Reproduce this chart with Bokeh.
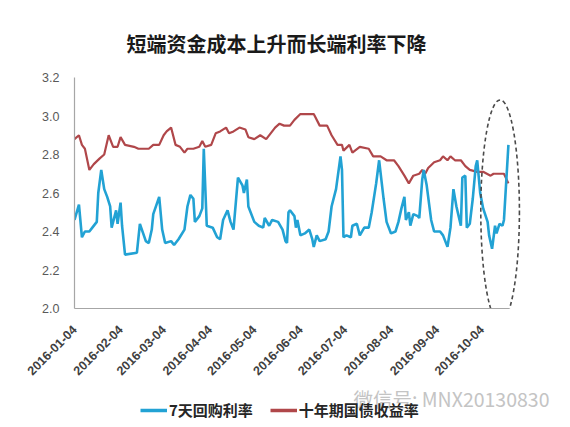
from math import pi
import pandas as pd
from bokeh.plotting import figure
from bokeh.layouts import column
from bokeh.models import (ColumnDataSource, FixedTicker, DatetimeTickFormatter,
                          PrintfTickFormatter, Legend, LegendItem, Range1d, Label)
from bokeh.embed import file_html
from bokeh.resources import INLINE

TITLE = "短端资金成本上升而长端利率下降"
SERIES_NAMES = ["7天回购利率", "十年期国债收益率"]
WATERMARK = "微信号: MNX20130830"

repo_dates = [
    "2016-01-04", "2016-01-07", "2016-01-09", "2016-01-11", "2016-01-14", "2016-01-16",
    "2016-01-19", "2016-01-20", "2016-01-22", "2016-01-24", "2016-01-26", "2016-01-28",
    "2016-01-29", "2016-02-01", "2016-02-02", "2016-02-04", "2016-02-05", "2016-02-07",
    "2016-02-15", "2016-02-17", "2016-02-21", "2016-02-23", "2016-02-25", "2016-02-26",
    "2016-03-01", "2016-03-03", "2016-03-05", "2016-03-09", "2016-03-11", "2016-03-14",
    "2016-03-18", "2016-03-20", "2016-03-22", "2016-03-24", "2016-03-25", "2016-03-28",
    "2016-03-30", "2016-03-31", "2016-04-02", "2016-04-06", "2016-04-09", "2016-04-11",
    "2016-04-13", "2016-04-16", "2016-04-18", "2016-04-20", "2016-04-23", "2016-04-26",
    "2016-04-27", "2016-04-29", "2016-04-30", "2016-05-04", "2016-05-07", "2016-05-10",
    "2016-05-11", "2016-05-14", "2016-05-16", "2016-05-20", "2016-05-23", "2016-05-25",
    "2016-05-26", "2016-05-27", "2016-05-28", "2016-05-31", "2016-06-01", "2016-06-02",
    "2016-06-04", "2016-06-07", "2016-06-10", "2016-06-12", "2016-06-13", "2016-06-15",
    "2016-06-17", "2016-06-21", "2016-06-23", "2016-06-25", "2016-06-28", "2016-07-01",
    "2016-07-02", "2016-07-03", "2016-07-05", "2016-07-08", "2016-07-09", "2016-07-12",
    "2016-07-14", "2016-07-17", "2016-07-20", "2016-07-22", "2016-07-25", "2016-07-27",
    "2016-07-30", "2016-08-01", "2016-08-04", "2016-08-07", "2016-08-09", "2016-08-11",
    "2016-08-13", "2016-08-14", "2016-08-16", "2016-08-17", "2016-08-19", "2016-08-22",
    "2016-08-23", "2016-08-25", "2016-08-26", "2016-08-28", "2016-08-31", "2016-09-02",
    "2016-09-06", "2016-09-08", "2016-09-11", "2016-09-13", "2016-09-15", "2016-09-17",
    "2016-09-20", "2016-09-21", "2016-09-23", "2016-09-24", "2016-09-26", "2016-09-28",
    "2016-09-30", "2016-10-01", "2016-10-03", "2016-10-05", "2016-10-08", "2016-10-09",
    "2016-10-11", "2016-10-13", "2016-10-14", "2016-10-16", "2016-10-18", "2016-10-19",
    "2016-10-21", "2016-10-22",
]
repo_rates = [
    2.46, 2.54, 2.37, 2.40, 2.40, 2.42,
    2.45, 2.60, 2.72, 2.62, 2.58, 2.53,
    2.42, 2.51, 2.44, 2.55, 2.43, 2.28,
    2.29, 2.44, 2.35, 2.34, 2.41, 2.49,
    2.58, 2.41, 2.34, 2.35, 2.33, 2.36,
    2.41, 2.53, 2.59, 2.57, 2.45, 2.48,
    2.52, 2.83, 2.43, 2.42, 2.37, 2.36,
    2.46, 2.51, 2.45, 2.41, 2.68, 2.64,
    2.60, 2.67, 2.53, 2.45, 2.43, 2.42,
    2.47, 2.43, 2.46, 2.45, 2.41, 2.35,
    2.34, 2.50, 2.51, 2.48, 2.42, 2.46,
    2.38, 2.39, 2.41, 2.36, 2.32, 2.38,
    2.35, 2.36, 2.40, 2.53, 2.62, 2.79,
    2.72, 2.37, 2.38, 2.37, 2.43, 2.44,
    2.38, 2.42, 2.42, 2.50, 2.65, 2.77,
    2.57, 2.45, 2.39, 2.40, 2.45, 2.52,
    2.58, 2.46, 2.50, 2.43, 2.49, 2.48,
    2.47, 2.67, 2.72, 2.64, 2.46, 2.40,
    2.40, 2.38, 2.32, 2.42, 2.62, 2.53,
    2.43, 2.68, 2.69, 2.42, 2.44, 2.57,
    2.74, 2.77, 2.60, 2.52, 2.45, 2.38,
    2.31, 2.43, 2.39, 2.44, 2.43, 2.46,
    2.72, 2.85,
]

bond_dates = [
    "2016-01-04", "2016-01-07", "2016-01-09", "2016-01-11", "2016-01-14", "2016-01-17",
    "2016-01-21", "2016-01-24", "2016-01-27", "2016-01-30", "2016-02-02", "2016-02-04",
    "2016-02-07", "2016-02-13", "2016-02-16", "2016-02-20", "2016-02-23", "2016-02-26",
    "2016-03-01", "2016-03-04", "2016-03-06", "2016-03-09", "2016-03-12", "2016-03-15",
    "2016-03-18", "2016-03-20", "2016-03-24", "2016-03-28", "2016-03-30", "2016-04-01",
    "2016-04-05", "2016-04-08", "2016-04-11", "2016-04-15", "2016-04-17", "2016-04-20",
    "2016-04-24", "2016-04-28", "2016-04-30", "2016-05-04", "2016-05-08", "2016-05-12",
    "2016-05-15", "2016-05-18", "2016-05-21", "2016-05-24", "2016-05-28", "2016-05-31",
    "2016-06-04", "2016-06-13", "2016-06-17", "2016-06-22", "2016-06-25", "2016-06-29",
    "2016-07-02", "2016-07-03", "2016-07-07", "2016-07-09", "2016-07-14", "2016-07-20",
    "2016-07-23", "2016-07-28", "2016-08-01", "2016-08-06", "2016-08-09", "2016-08-13",
    "2016-08-16", "2016-08-19", "2016-08-23", "2016-08-25", "2016-08-27", "2016-08-29",
    "2016-09-02", "2016-09-06", "2016-09-08", "2016-09-11", "2016-09-13", "2016-09-16",
    "2016-09-20", "2016-09-23", "2016-09-26", "2016-10-01", "2016-10-05", "2016-10-10",
    "2016-10-12", "2016-10-16", "2016-10-19", "2016-10-22",
]
bond_yields = [
    2.88, 2.90, 2.85, 2.83, 2.72, 2.75,
    2.78, 2.80, 2.90, 2.84, 2.84, 2.89,
    2.85, 2.84, 2.83, 2.83, 2.83, 2.85,
    2.85, 2.90, 2.92, 2.94, 2.85, 2.84,
    2.81, 2.83, 2.83, 2.84, 2.87, 2.84,
    2.85, 2.91, 2.92, 2.94, 2.91, 2.92,
    2.94, 2.93, 2.89, 2.88, 2.90, 2.88,
    2.91, 2.94, 2.96, 2.95, 2.95, 2.98,
    3.01, 3.01, 2.95, 2.95, 2.90, 2.85,
    2.85, 2.82, 2.85, 2.81, 2.84, 2.83,
    2.79, 2.79, 2.77, 2.77, 2.74, 2.69,
    2.65, 2.69, 2.70, 2.72, 2.70, 2.73,
    2.76, 2.77, 2.79, 2.77, 2.79, 2.77,
    2.77, 2.74, 2.72, 2.71, 2.71, 2.69,
    2.70, 2.70, 2.70, 2.65,
]

x_tick_labels = ["2016-01-04", "2016-02-04", "2016-03-04", "2016-04-04", "2016-05-04",
                 "2016-06-04", "2016-07-04", "2016-08-04", "2016-09-04", "2016-10-04"]
y_ticks = [2.0, 2.2, 2.4, 2.6, 2.8, 3.0, 3.2]

# highlighted region (dashed ellipse around the last weeks)
HIGHLIGHT_CENTER = ("2016-10-16", 2.505)
HIGHLIGHT_DAYS = 26.0
HIGHLIGHT_HEIGHT = 1.157

DAY_MS = 86400000.0
REPO_COLOR = "#22a2d4"
BOND_COLOR = "#b0474a"


def ms(d):
    return (pd.Timestamp(d) - pd.Timestamp("1970-01-01")).total_seconds() * 1000.0


x_start = ms(repo_dates[0])
x_end = x_start + 325.7 * DAY_MS

src_repo = ColumnDataSource(dict(x=pd.to_datetime(repo_dates), y=repo_rates))
src_bond = ColumnDataSource(dict(x=pd.to_datetime(bond_dates), y=bond_yields))

# ---------------- main chart ----------------
p = figure(width=562, height=382, x_axis_type="datetime",
           x_range=Range1d(x_start, x_end), y_range=Range1d(y_ticks[0], y_ticks[-1]),
           output_backend="svg", toolbar_location=None,
           min_border_left=74, min_border_right=4, min_border_top=77, min_border_bottom=72,
           background_fill_color="white", border_fill_color="white")
p.outline_line_color = None
p.xgrid.visible = False
p.ygrid.visible = False

p.title.text = TITLE
p.title.text_font = "Noto Sans CJK SC"
p.title.text_font_size = "20px"
p.title.text_font_style = "bold"
p.title.text_color = "#1a1a1a"
p.title.align = "left"
p.title.offset = 52
p.title.standoff = 40

p.line("x", "y", source=src_bond, line_color=BOND_COLOR, line_width=2.2)
p.line("x", "y", source=src_repo, line_color=REPO_COLOR, line_width=2.6)

p.ellipse(x=[ms(HIGHLIGHT_CENTER[0]) + 0.4 * DAY_MS], y=[HIGHLIGHT_CENTER[1]],
          width=HIGHLIGHT_DAYS * DAY_MS, height=HIGHLIGHT_HEIGHT,
          fill_color=None, line_color="#4a4a4a", line_width=1.6, line_dash="4 3")

xa = p.xaxis[0]
xa.ticker = FixedTicker(ticks=[ms(d) for d in x_tick_labels])
xa.formatter = DatetimeTickFormatter(days="%Y-%m-%d", months="%Y-%m-%d", years="%Y-%m-%d")
xa.major_label_orientation = pi / 4
xa.major_tick_line_color = None
xa.minor_tick_line_color = None
xa.axis_line_color = "#a6a6a6"
xa.axis_line_width = 1.2
xa.major_label_text_font = "Liberation Sans"
xa.major_label_text_font_style = "bold"
xa.major_label_text_font_size = "12.5px"
xa.major_label_text_color = "#404040"
xa.major_label_standoff = 13
xa.bounds = (ms(repo_dates[0]), ms(repo_dates[-1]) + DAY_MS)

ya = p.yaxis[0]
ya.ticker = FixedTicker(ticks=y_ticks)
ya.formatter = PrintfTickFormatter(format="%.1f")
ya.major_tick_line_color = None
ya.minor_tick_line_color = None
ya.axis_line_color = "#a6a6a6"
ya.axis_line_width = 1.2
ya.major_label_text_font = "Liberation Sans"
ya.major_label_text_font_size = "12.5px"
ya.major_label_text_color = "#595959"
ya.major_label_standoff = 9
ya.bounds = (y_ticks[0], y_ticks[-1])

# ---------------- legend strip ----------------
p2 = figure(width=562, height=45, x_range=Range1d(x_start, x_end), y_range=Range1d(0, 1),
            output_backend="svg", toolbar_location=None,
            x_axis_location=None, y_axis_location=None,
            min_border_left=74, min_border_right=4, min_border_top=0, min_border_bottom=0,
            background_fill_color="white", border_fill_color="white")
p2.outline_line_color = None
p2.xgrid.visible = False
p2.ygrid.visible = False

k_repo = p2.line("x", "y", source=src_repo, line_color=REPO_COLOR, line_width=3.5, visible=False)
k_bond = p2.line("x", "y", source=src_bond, line_color=BOND_COLOR, line_width=3.5, visible=False)

wm = Label(x=279, y=29, x_units="screen", y_units="screen", text=WATERMARK,
           text_baseline="middle", text_font="Noto Sans CJK SC", text_font_size="19.5px",
           text_color="#c4c4c4")
p2.add_layout(wm)

legend = Legend(items=[LegendItem(label=SERIES_NAMES[0], renderers=[k_repo]),
                       LegendItem(label=SERIES_NAMES[1], renderers=[k_bond])],
                orientation="horizontal", location=(66, 7), click_policy="none",
                padding=0, margin=0, spacing=17, label_standoff=2,
                glyph_width=27, glyph_height=18,
                border_line_color=None, background_fill_alpha=0,
                inactive_fill_alpha=0,
                label_text_font="Noto Sans CJK SC", label_text_font_size="15px",
                label_text_font_style="bold", label_text_color="#262626")
p2.add_layout(legend)

open("out.html", "w").write(file_html(column(p, p2, spacing=0), INLINE))
